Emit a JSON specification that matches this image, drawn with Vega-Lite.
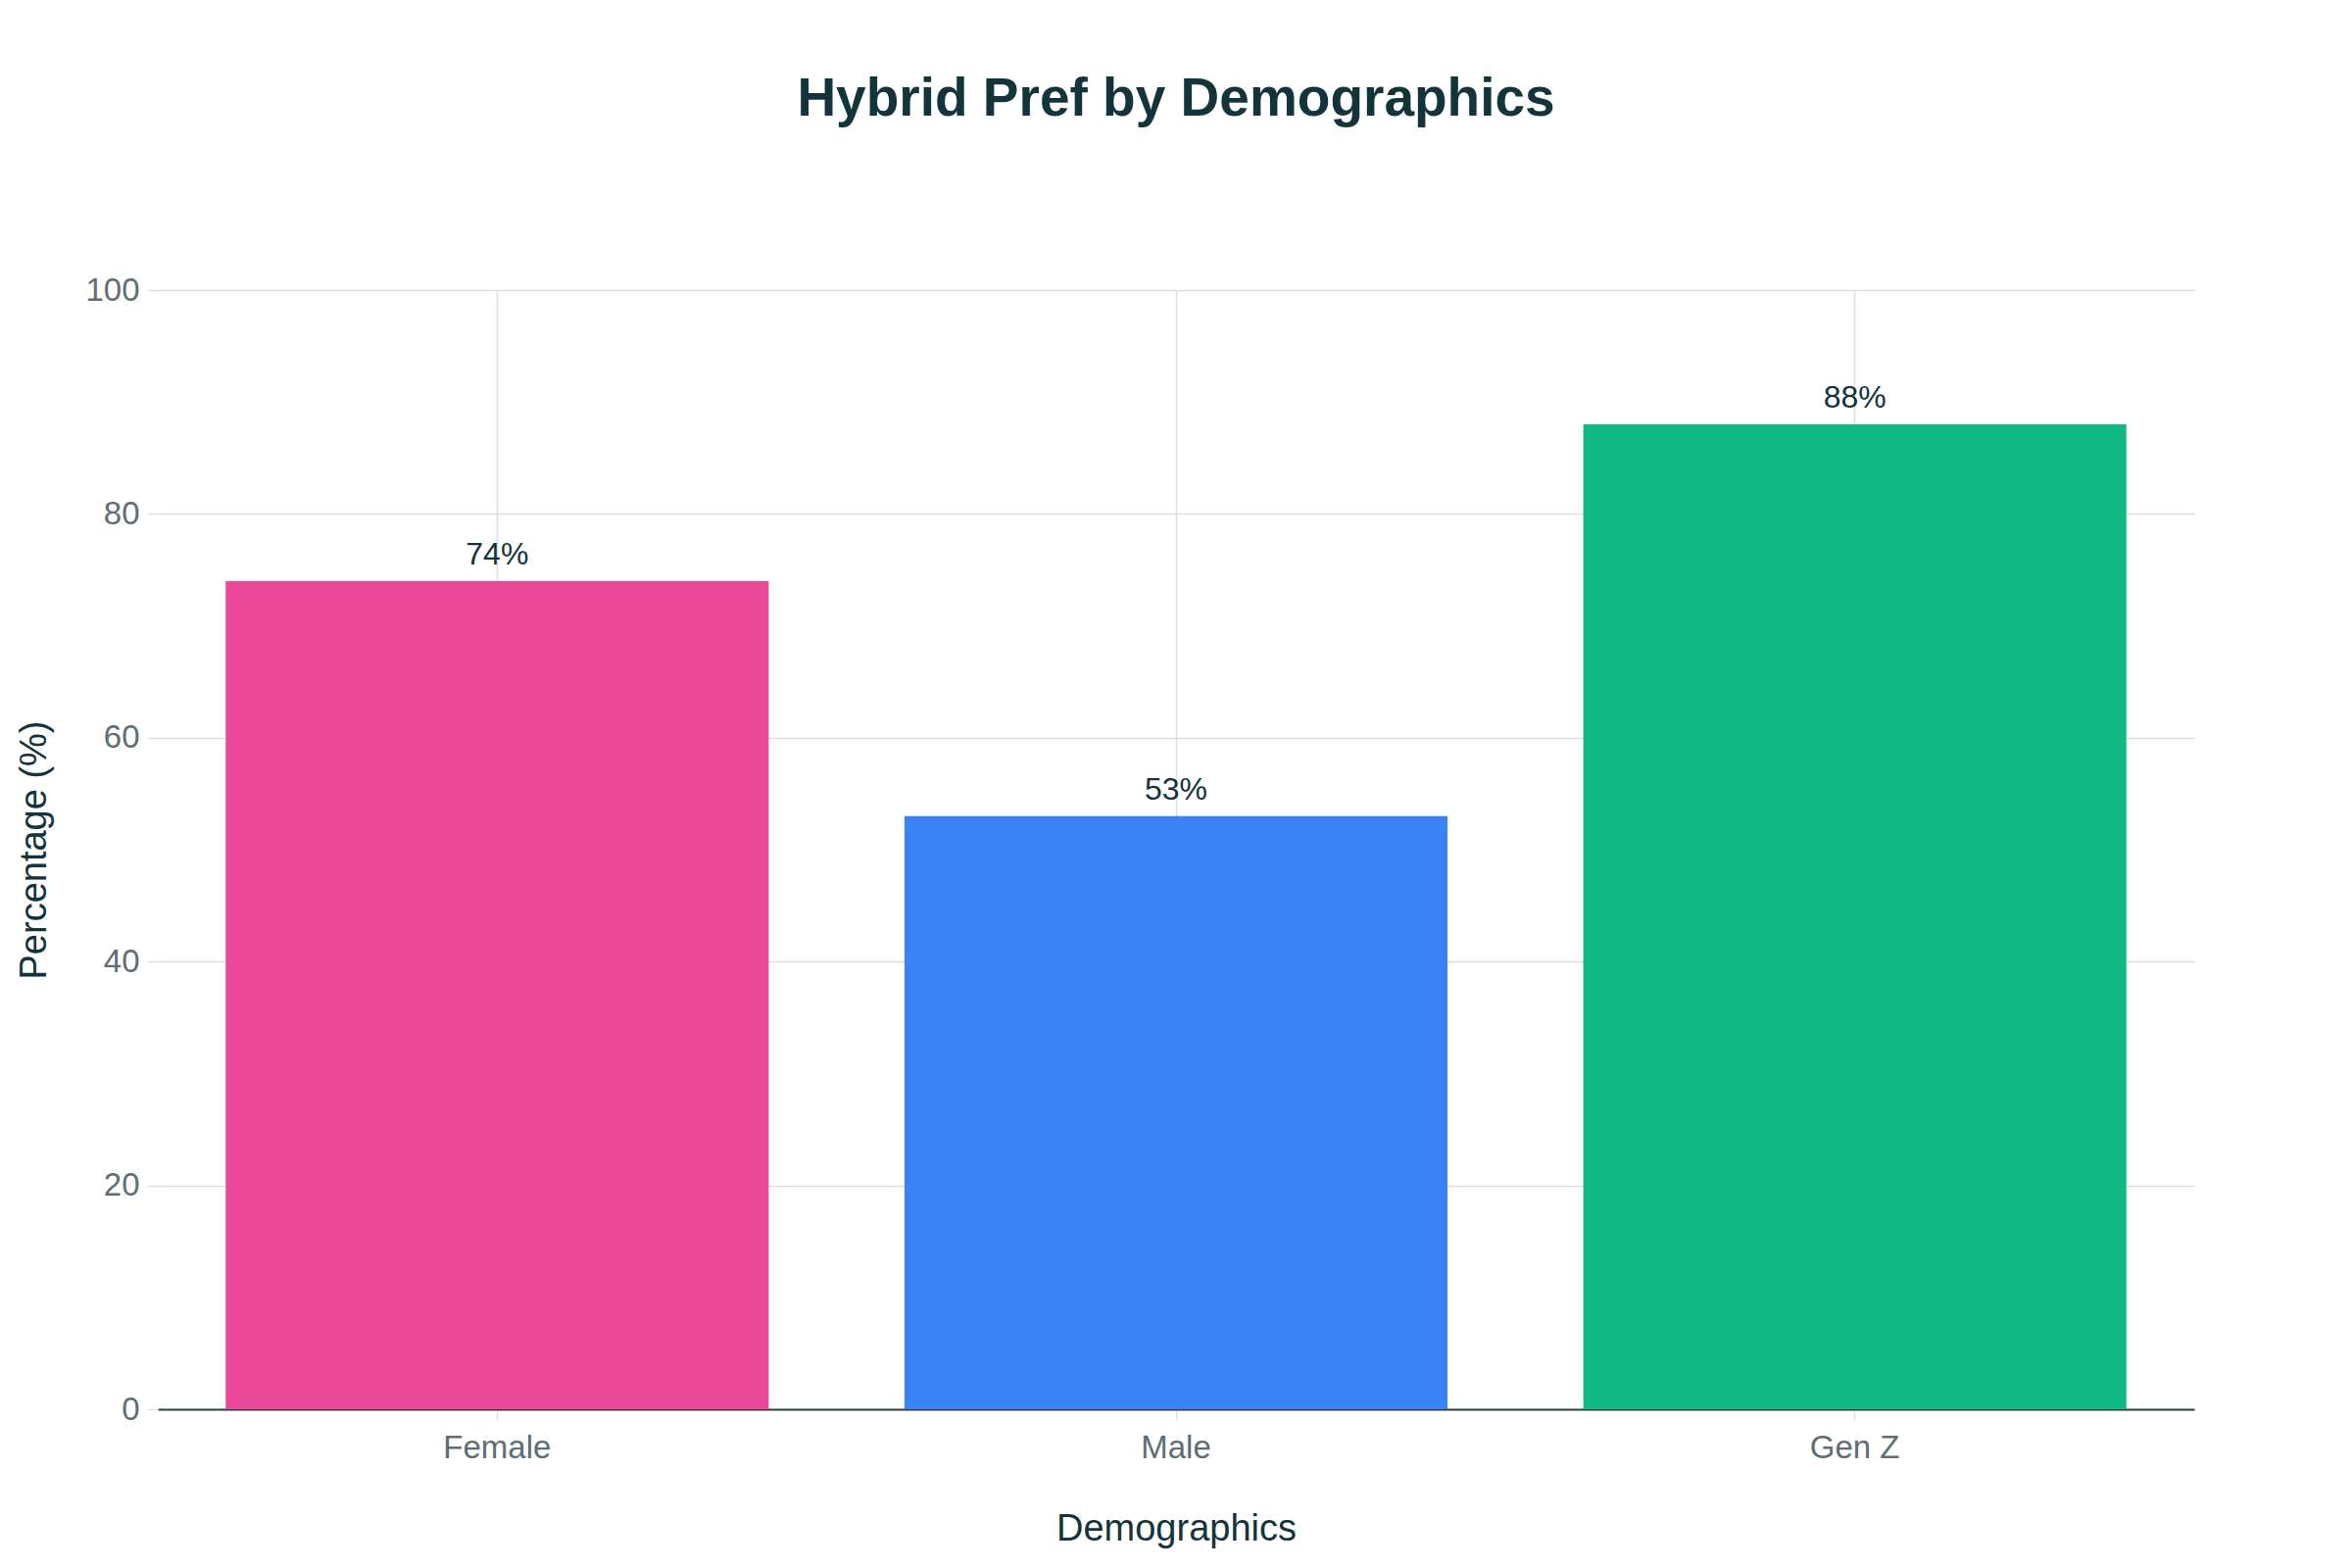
{
  "$schema": "https://vega.github.io/schema/vega-lite/v6.json",
  "width": 2078,
  "height": 1142,
  "autosize": {"type": "none"},
  "padding": {"left": 161, "top": 296, "right": 161, "bottom": 162},
  "background": "white",
  "title": {
    "text": "Hybrid Pref by Demographics",
    "font": "Liberation Sans",
    "fontSize": 55,
    "fontWeight": "bold",
    "color": "#13343B",
    "anchor": "middle",
    "offset": 150
  },
  "data": {
    "values": [
      {"group": "Female", "pct": 74},
      {"group": "Male", "pct": 53},
      {"group": "Gen Z", "pct": 88}
    ]
  },
  "config": {
    "view": {"stroke": null},
    "font": "Liberation Sans",
    "axis": {
      "labelFont": "Liberation Sans",
      "titleFont": "Liberation Sans",
      "labelColor": "#5E6E73",
      "titleColor": "#13343B",
      "labelFontSize": 33,
      "titleFontSize": 38,
      "titleFontWeight": "normal",
      "gridColor": "#DDE0E3",
      "gridWidth": 1.5,
      "tickColor": "#DDE0E3",
      "tickWidth": 1.5,
      "tickSize": 11
    }
  },
  "encoding": {
    "x": {
      "field": "group",
      "type": "nominal",
      "sort": ["Female", "Male", "Gen Z"],
      "scale": {"paddingInner": 0.2, "paddingOuter": 0.1},
      "axis": {
        "title": "Demographics",
        "labelAngle": 0,
        "labelPadding": 12,
        "titlePadding": 47,
        "grid": true,
        "bandPosition": 0.5,
        "domainColor": "#2F3F44",
        "domainWidth": 2
      }
    },
    "y": {
      "field": "pct",
      "type": "quantitative",
      "scale": {"domain": [0, 100]},
      "axis": {
        "title": "Percentage (%)",
        "values": [0, 20, 40, 60, 80, 100],
        "domain": false,
        "labelPadding": 8,
        "titlePadding": 32
      }
    }
  },
  "layer": [
    {
      "mark": {"type": "bar"},
      "encoding": {
        "color": {
          "field": "group",
          "type": "nominal",
          "scale": {
            "domain": ["Female", "Male", "Gen Z"],
            "range": ["#EC4899", "#3B82F6", "#10B981"]
          },
          "legend": null
        }
      }
    },
    {
      "mark": {
        "type": "text",
        "baseline": "bottom",
        "dy": -10,
        "fontSize": 32,
        "color": "#13343B",
        "font": "Liberation Sans"
      },
      "encoding": {
        "text": {"field": "label", "type": "nominal"}
      },
      "transform": [
        {"calculate": "datum.pct + '%'", "as": "label"}
      ]
    }
  ]
}
